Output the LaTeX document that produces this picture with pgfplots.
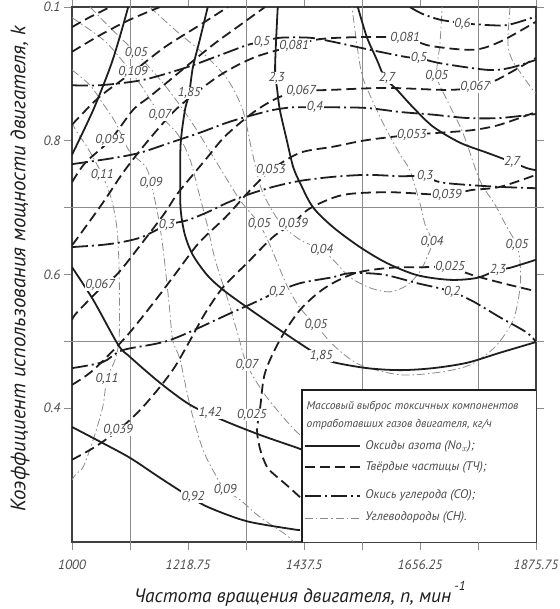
\documentclass[border=0pt]{standalone}
\usepackage{fontspec}
\setmainfont{PT Sans}
\usepackage{pgfplots}
\pgfplotsset{compat=1.18}

\definecolor{ink}{HTML}{1E1E1E}
\definecolor{chgray}{HTML}{8A8A8A}
\definecolor{gridgray}{HTML}{8C8C8C}
\definecolor{labgray}{HTML}{4A4A4A}

\tikzset{
  noxline/.style={ink, line width=1.8pt},
  pmline/.style={ink, line width=1.8pt, dash pattern=on 10bp off 5bp},
  coline/.style={ink, line width=1.8pt, dash pattern=on 16bp off 4bp on 2bp off 4bp},
  chline/.style={chgray, line width=0.8pt, dash pattern=on 8bp off 3bp on 1.5bp off 3bp},
  lab/.style={font=\itshape\fontsize{13}{13}\selectfont, text=labgray, fill=white, inner sep=0.6pt},
  leg/.style={font=\itshape\fontsize{12.5}{12.5}\selectfont, text=labgray, anchor=west, inner sep=0pt},
}

\begin{document}
\begin{tikzpicture}
\path[use as bounding box] (-72bp,-67bp) rectangle (488bp,542bp);
\begin{axis}[
    at={(0,0)}, anchor=south west,
    width=464bp, height=535bp, scale only axis,
    xmin=1000, xmax=1875, ymin=0.2, ymax=1.0,
    xtick={1000,1218.75,1437.5,1656.25,1875},
    xticklabels={1000,1218.75,1437.5,1656.25,1875.75},
    ytick={0.4,0.6,0.8,1.0},
    yticklabels={0.4,0.6,0.8,0.1},
    extra x ticks={1109.375,1328.125,1546.875,1765.625},
    extra x tick labels={},
    extra y ticks={0.5,0.7},
    extra y tick labels={},
    extra tick style={grid=major, major grid style={gridgray, line width=0.8pt}},
    tick align=outside, major tick length=8bp,
    tick style={gridgray, line width=0.8pt},
    axis line style={ink!85, line width=1.8pt},
    ticklabel style={font=\itshape\fontsize{13.5}{13.5}\selectfont, text=labgray},
    xticklabel style={yshift=-6bp},
    xlabel={Частота вращения двигателя, n, мин\,\raisebox{1.3ex}{\fontsize{13}{13}\selectfont -1}},
    ylabel={Коэффициент использования мощности двигателя, k},
    xlabel style={font=\itshape\fontsize{19.5}{19.5}\selectfont, text=ink, at={(axis description cs:0.491,-0.097)}, anchor=center},
    ylabel style={font=\itshape\fontsize{21}{21}\selectfont, text=ink, at={(axis description cs:-0.112,0.51)}, anchor=center},
    no markers,
]

% CH, углеводороды
\addplot[chline, smooth] coordinates {(1034,1.0)(1072,0.969)(1121,0.931)(1175,0.883)(1223,0.831)(1270,0.771)(1317,0.711)(1353,0.676)(1377,0.637)(1405,0.584)(1430,0.550)(1460,0.524)(1496,0.492)(1543,0.465)(1619,0.450)(1694,0.454)(1751,0.465)(1798,0.492)(1832,0.532)(1845,0.581)(1845,0.617)(1839,0.644)(1820,0.671)(1798,0.704)(1769,0.741)(1737,0.812)(1707,0.861)(1688,0.897)(1694,0.946)(1698,1.0)};
\addplot[chline, smooth] coordinates {(1147,1.0)(1194,0.966)(1251,0.928)(1294,0.891)(1322,0.846)(1339,0.786)(1358,0.726)(1392,0.678)(1430,0.652)(1471,0.637)(1496,0.619)(1524,0.596)(1562,0.580)(1600,0.574)(1632,0.584)(1656,0.604)(1669,0.625)(1679,0.649)(1666,0.674)(1656,0.707)(1637,0.756)(1619,0.779)(1590,0.821)(1566,0.861)(1547,0.898)(1536,0.951)(1528,1.0)};
\addplot[chline, smooth] coordinates {(1000,0.984)(1015,0.976)(1066,0.946)(1123,0.891)(1166,0.839)(1200,0.809)(1223,0.771)(1238,0.726)(1255,0.674)(1270,0.622)(1294,0.562)(1313,0.510)(1330,0.465)(1364,0.420)(1411,0.375)(1430,0.360)};
\addplot[chline, smooth] coordinates {(1826,1.0)(1822,0.946)(1830,0.921)(1849,0.898)(1869,0.876)(1875,0.871)};
\addplot[chline, smooth] coordinates {(1000,0.906)(1034,0.883)(1058,0.856)(1083,0.826)(1107,0.786)(1139,0.761)(1149,0.737)(1162,0.689)(1172,0.637)(1183,0.557)(1190,0.502)(1204,0.472)(1223,0.402)(1247,0.338)(1273,0.297)(1289,0.278)(1317,0.263)(1355,0.237)(1405,0.210)(1417,0.200)};
\addplot[chline, smooth] coordinates {(1000,0.828)(1007,0.816)(1032,0.786)(1057,0.749)(1075,0.711)(1085,0.667)(1089,0.602)(1089,0.507)(1081,0.472)(1066,0.445)(1058,0.402)(1040,0.353)(1021,0.312)(1009,0.303)(1000,0.293)};

% ТЧ, твёрдые частицы
\addplot[pmline, smooth] coordinates {(1430,0.267)(1405,0.285)(1387,0.297)(1368,0.312)(1355,0.338)(1349,0.367)(1355,0.402)(1364,0.453)(1392,0.502)(1430,0.547)(1477,0.580)(1534,0.602)(1600,0.610)(1666,0.611)(1709,0.611)(1760,0.598)(1817,0.586)(1875,0.575)};
\addplot[pmline, smooth] coordinates {(1000,0.323)(1043,0.342)(1087,0.367)(1128,0.397)(1166,0.432)(1194,0.462)(1223,0.502)(1251,0.542)(1285,0.581)(1330,0.617)(1379,0.656)(1417,0.677)(1449,0.699)(1511,0.719)(1600,0.723)(1707,0.719)(1751,0.726)(1807,0.731)(1875,0.749)};
\addplot[pmline, smooth] coordinates {(1000,0.435)(1040,0.457)(1102,0.507)(1153,0.557)(1196,0.602)(1239,0.647)(1290,0.686)(1336,0.726)(1375,0.756)(1430,0.782)(1492,0.791)(1556,0.801)(1641,0.809)(1694,0.812)(1756,0.816)(1807,0.824)(1875,0.843)};
\addplot[pmline, smooth] coordinates {(1000,0.532)(1008,0.542)(1051,0.577)(1087,0.602)(1132,0.647)(1175,0.692)(1200,0.722)(1251,0.771)(1289,0.807)(1343,0.843)(1390,0.865)(1430,0.874)(1487,0.876)(1594,0.879)(1707,0.876)(1760,0.880)(1801,0.891)(1875,0.924)};
\addplot[pmline, smooth] coordinates {(1000,0.644)(1008,0.652)(1058,0.707)(1096,0.752)(1134,0.791)(1177,0.831)(1209,0.856)(1279,0.898)(1345,0.925)(1419,0.942)(1468,0.952)(1543,0.955)(1628,0.954)(1675,0.942)(1756,0.936)(1807,0.948)(1875,0.978)};
\addplot[pmline, smooth] coordinates {(1000,0.738)(1025,0.767)(1072,0.801)(1115,0.846)(1145,0.865)(1185,0.891)(1223,0.916)(1270,0.946)(1317,0.973)(1364,1.0)};
\addplot[pmline, smooth] coordinates {(1000,0.824)(1051,0.865)(1115,0.903)(1175,0.940)(1241,0.973)(1294,1.0)};
\addplot[pmline, smooth] coordinates {(1000,0.933)(1053,0.958)(1109,0.981)(1166,1.0)};
\addplot[pmline, smooth] coordinates {(1000,0.970)(1034,0.985)(1072,1.0)};

% CO, окись углерода
\addplot[coline, smooth] coordinates {(1637,1.0)(1660,0.990)(1694,0.981)(1737,0.976)(1764,0.974)(1820,0.973)(1875,0.986)};
\addplot[coline, smooth] coordinates {(1000,0.883)(1053,0.883)(1134,0.891)(1217,0.910)(1279,0.928)(1330,0.943)(1358,0.948)(1392,0.954)(1449,0.954)(1492,0.948)(1562,0.936)(1632,0.925)(1653,0.924)(1694,0.916)(1783,0.906)(1826,0.909)(1875,0.921)};
\addplot[coline, smooth] coordinates {(1000,0.765)(1077,0.774)(1128,0.782)(1185,0.797)(1241,0.812)(1292,0.827)(1330,0.836)(1379,0.846)(1417,0.850)(1458,0.850)(1492,0.850)(1556,0.849)(1619,0.843)(1681,0.839)(1745,0.834)(1807,0.834)(1875,0.840)};
\addplot[coline, smooth] coordinates {(1000,0.641)(1053,0.644)(1091,0.648)(1132,0.656)(1179,0.674)(1217,0.681)(1255,0.693)(1292,0.707)(1330,0.719)(1379,0.731)(1430,0.740)(1492,0.746)(1556,0.749)(1619,0.747)(1662,0.747)(1694,0.738)(1745,0.734)(1807,0.731)(1875,0.729)};
\addplot[coline, smooth] coordinates {(1000,0.460)(1058,0.469)(1096,0.487)(1185,0.502)(1304,0.544)(1341,0.557)(1387,0.574)(1430,0.587)(1492,0.596)(1524,0.602)(1586,0.600)(1651,0.587)(1690,0.580)(1717,0.574)(1756,0.560)(1807,0.536)(1858,0.513)(1875,0.499)};

% NOx, оксиды азота
\addplot[noxline, smooth] coordinates {(1000,0.372)(1053,0.350)(1109,0.326)(1166,0.296)(1223,0.267)(1260,0.251)(1330,0.231)(1417,0.219)(1430,0.218)};
\addplot[noxline, smooth] coordinates {(1000,0.611)(1040,0.562)(1087,0.495)(1109,0.477)(1166,0.438)(1223,0.405)(1285,0.382)(1355,0.360)(1424,0.341)(1430,0.339)};
\addplot[noxline, smooth] coordinates {(1256,1.0)(1241,0.951)(1228,0.910)(1221,0.871)(1213,0.846)(1205,0.797)(1204,0.741)(1205,0.696)(1213,0.659)(1228,0.629)(1255,0.599)(1285,0.577)(1330,0.551)(1392,0.517)(1449,0.487)(1470,0.478)(1492,0.469)(1556,0.460)(1619,0.457)(1681,0.460)(1745,0.468)(1807,0.483)(1875,0.499)};
\addplot[noxline, smooth] coordinates {(1106,1.0)(1090,0.955)(1072,0.910)(1040,0.846)(1000,0.779)};
\addplot[noxline, smooth] coordinates {(1388,1.0)(1383,0.910)(1387,0.876)(1392,0.846)(1405,0.801)(1417,0.761)(1430,0.737)(1454,0.701)(1492,0.671)(1543,0.641)(1594,0.617)(1651,0.599)(1713,0.592)(1764,0.595)(1803,0.607)(1826,0.610)(1875,0.622)};
\addplot[noxline, smooth] coordinates {(1539,1.0)(1556,0.955)(1575,0.921)(1590,0.894)(1613,0.876)(1643,0.850)(1681,0.821)(1732,0.797)(1783,0.782)(1830,0.768)(1858,0.759)(1875,0.756)};

% подписи изолиний
\node[lab] at (axis cs:1228,0.268) {0,92};
\node[lab] at (axis cs:1260,0.393) {1,42};
\node[lab] at (axis cs:1221,0.871) {1,85};
\node[lab] at (axis cs:1470,0.478) {1,85};
\node[lab] at (axis cs:1386,0.894) {2,3};
\node[lab] at (axis cs:1803,0.607) {2,3};
\node[lab] at (axis cs:1594,0.894) {2,7};
\node[lab] at (axis cs:1830,0.768) {2,7};

\node[lab] at (axis cs:1736,0.975) {0,6};
\node[lab] at (axis cs:1358,0.948) {0,5};
\node[lab] at (axis cs:1654,0.924) {0,5};
\node[lab] at (axis cs:1458,0.850) {0,4};
\node[lab] at (axis cs:1179,0.674) {0,3};
\node[lab] at (axis cs:1666,0.747) {0,3};
\node[lab] at (axis cs:1387,0.574) {0,2};
\node[lab] at (axis cs:1717,0.574) {0,2};

\node[lab] at (axis cs:1339,0.390) {0,025};
\node[lab] at (axis cs:1713,0.611) {0,025};
\node[lab] at (axis cs:1087,0.367) {0,039};
\node[lab] at (axis cs:1417,0.676) {0,039};
\node[lab] at (axis cs:1707,0.719) {0,039};
\node[lab] at (axis cs:1375,0.756) {0,053};
\node[lab] at (axis cs:1641,0.809) {0,053};
\node[lab] at (axis cs:1053,0.584) {0,067};
\node[lab] at (axis cs:1432,0.874) {0,067};
\node[lab] at (axis cs:1760,0.880) {0,067};
\node[lab] at (axis cs:1419,0.942) {0,081};
\node[lab] at (axis cs:1628,0.954) {0,081};
\node[lab] at (axis cs:1072,0.801) {0,095};
\node[lab] at (axis cs:1115,0.903) {0,109};

\node[lab] at (axis cs:1121,0.931) {0,05};
\node[lab] at (axis cs:1353,0.676) {0,05};
\node[lab] at (axis cs:1460,0.524) {0,05};
\node[lab] at (axis cs:1839,0.644) {0,05};
\node[lab] at (axis cs:1688,0.897) {0,05};
\node[lab] at (axis cs:1471,0.637) {0,04};
\node[lab] at (axis cs:1679,0.649) {0,04};
\node[lab] at (axis cs:1166,0.839) {0,07};
\node[lab] at (axis cs:1330,0.465) {0,07};
\node[lab] at (axis cs:1149,0.737) {0,09};
\node[lab] at (axis cs:1289,0.278) {0,09};
\node[lab] at (axis cs:1057,0.749) {0,11};
\node[lab] at (axis cs:1066,0.444) {0,11};

% легенда
\fill[white] (axis cs:1434,0.2) rectangle (axis cs:1875,0.427);
\draw[ink, line width=1.8pt] (axis cs:1434,0.2) -- (axis cs:1434,0.427) -- (axis cs:1875,0.427);
\node[leg, font=\itshape\fontsize{11.5}{11.5}\selectfont] at (axis cs:1442,0.402) {Массовый выброс токсичных компонентов};
\node[leg, font=\itshape\fontsize{11.5}{11.5}\selectfont] at (axis cs:1442,0.375) {отработавших газов двигателя, кг/ч};
\draw[noxline] (axis cs:1439,0.343) -- (axis cs:1543,0.343);
\node[leg] at (axis cs:1553,0.343) {Оксиды азота (No$_x$);};
\draw[pmline] (axis cs:1439,0.312) -- (axis cs:1543,0.312);
\node[leg] at (axis cs:1553,0.312) {Твёрдые частицы (ТЧ);};
\draw[coline] (axis cs:1439,0.269) -- (axis cs:1543,0.269);
\node[leg] at (axis cs:1553,0.269) {Окись углерода (СО);};
\draw[chline] (axis cs:1439,0.236) -- (axis cs:1543,0.236);
\node[leg] at (axis cs:1553,0.236) {Углеводороды (СН).};
\end{axis}
\end{tikzpicture}
\end{document}
